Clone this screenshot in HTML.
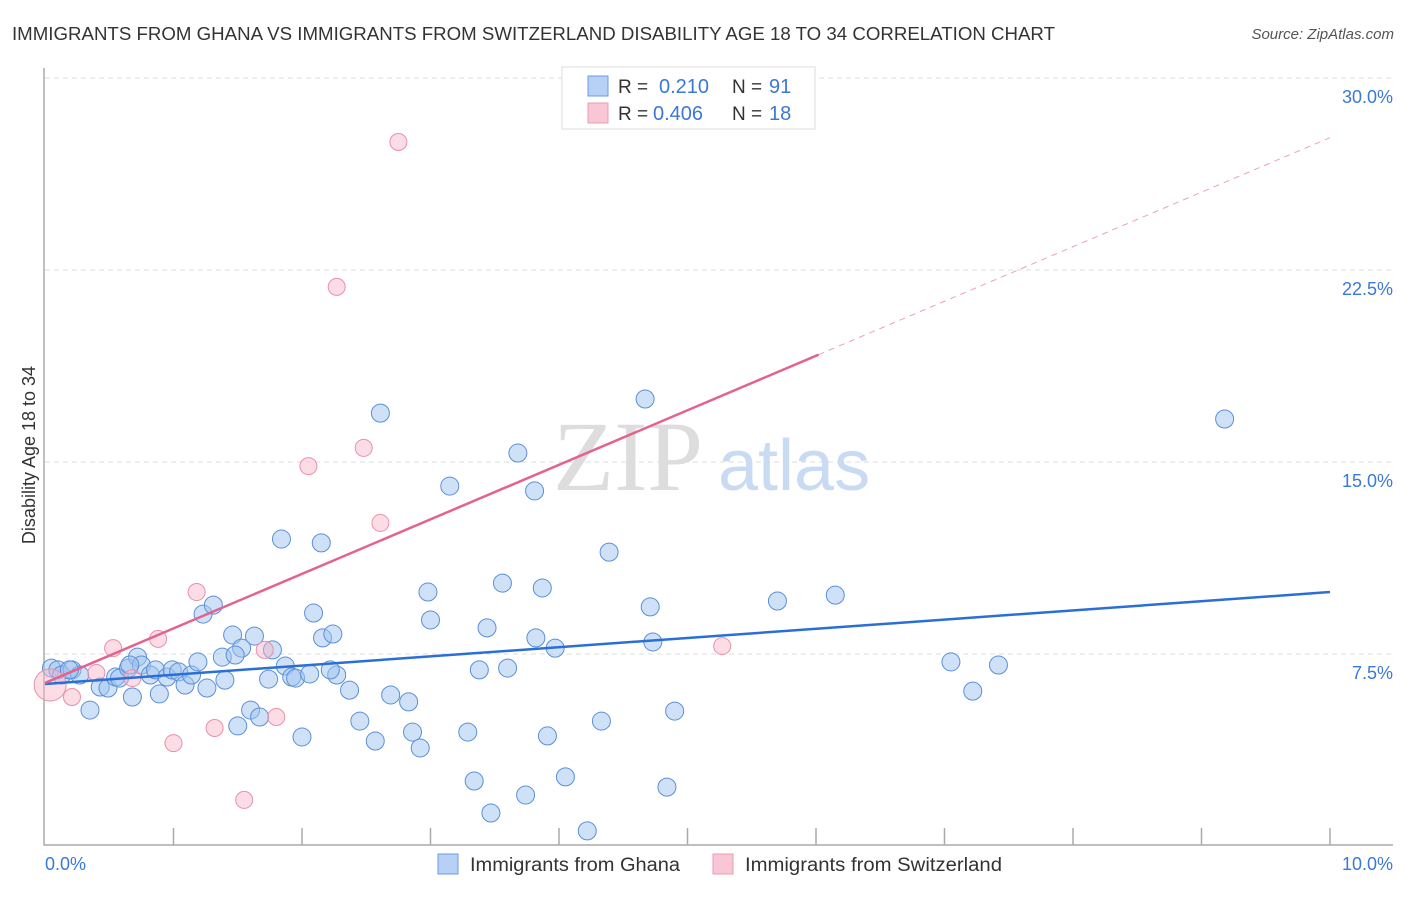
<!DOCTYPE html>
<html><head><meta charset="utf-8"><style>
body{margin:0;background:#fff;font-family:"Liberation Sans",sans-serif}
</style></head><body>
<svg id="chart" width="1406" height="892" xmlns="http://www.w3.org/2000/svg" font-family="Liberation Sans, sans-serif">
<text x="12" y="40" font-size="18" fill="#333" textLength="1043" lengthAdjust="spacingAndGlyphs">IMMIGRANTS FROM GHANA VS IMMIGRANTS FROM SWITZERLAND DISABILITY AGE 18 TO 34 CORRELATION CHART</text>
<text x="1394" y="39" font-size="15" fill="#555" font-style="italic" text-anchor="end">Source: ZipAtlas.com</text>
<g id="grid"></g>
<text x="553" y="490" font-size="100" font-family="Liberation Serif, serif" fill="#ddd">ZIP</text>
<text x="718" y="490" font-size="72" fill="#c9dbf3">atlas</text>
<g id="marks"></g>
<text transform="translate(35,455) rotate(-90)" font-size="18" fill="#333" text-anchor="middle">Disability Age 18 to 34</text>
<text x="45" y="870" font-size="18" fill="#3b78d8">0.0%</text>
<text x="1393" y="870" font-size="18" fill="#3b78d8" text-anchor="end">10.0%</text>
<g>
<rect x="562" y="67" width="253" height="62" fill="#fff" stroke="#ddd"/>
<rect x="588" y="76" width="20" height="20" fill="#b7d0f5" stroke="#6a9be0"/>
<rect x="588" y="103" width="20" height="20" fill="#f9c6d5" stroke="#eb9ab5"/>
<text x="618" y="93" font-size="19" fill="#333">R = </text><text x="659" y="93" font-size="20" fill="#3b78d8">0.210</text>
<text x="732" y="93" font-size="19" fill="#333">N = </text><text x="769" y="93" font-size="20" fill="#3b78d8">91</text>
<text x="618" y="120" font-size="19" fill="#333">R = </text><text x="653" y="120" font-size="20" fill="#3b78d8">0.406</text>
<text x="732" y="120" font-size="19" fill="#333">N = </text><text x="769" y="120" font-size="20" fill="#3b78d8">18</text>
</g>
<g>
<rect x="438" y="854" width="20" height="20" fill="#b7d0f5" stroke="#6a9be0"/>
<text x="470" y="871" font-size="19" fill="#333" textLength="210" lengthAdjust="spacingAndGlyphs">Immigrants from Ghana</text>
<rect x="713" y="854" width="20" height="20" fill="#f9c6d5" stroke="#eb9ab5"/>
<text x="745" y="871" font-size="19" fill="#333" textLength="257" lengthAdjust="spacingAndGlyphs">Immigrants from Switzerland</text>
</g>
</svg>
<script>
const yTicks=[7.5,15,22.5,30];
const yTickLabels=["7.5%","15.0%","22.5%","30.0%"];
const ghanaX=[.05,.10,.13,.21,.27,.35,.43,.49,.55,.58,.65,.68,.72,.75,.82,.86,.89,.95,.99,1.04,1.09,1.14,1.19,1.23,1.26,1.31,1.38,1.40,1.46,1.50,1.53,1.60,1.63,1.67,1.74,1.77,1.84,1.87,1.92,1.95,2.00,2.06,2.09,2.15,2.16,2.24,2.27,2.37,2.45,2.57,2.61,2.69,2.83,2.86,2.92,2.98,3.00,3.15,3.29,3.34,3.38,3.44,3.47,3.56,3.60,3.68,3.74,3.81,3.82,3.87,3.91,3.97,4.05,4.22,4.33,4.39,4.67,4.71,4.73,4.84,4.90,5.70,6.15,7.05,7.22,7.42,9.18,.19,.66,1.48,2.22];
const ghanaY=[6.95,6.88,6.68,6.88,6.68,5.31,6.21,6.17,6.60,6.56,6.95,5.82,7.38,7.07,6.68,6.88,5.94,6.60,6.88,6.80,6.29,6.68,7.19,9.06,6.17,9.41,7.38,6.48,8.24,4.69,7.73,5.31,8.20,5.04,6.52,7.66,11.99,7.03,6.60,6.56,4.26,6.72,9.10,11.84,8.13,8.28,6.68,6.09,4.88,4.10,16.91,5.90,5.63,4.45,3.83,9.92,8.83,14.06,4.45,2.54,6.88,8.52,1.29,10.27,6.95,15.35,1.99,13.87,8.13,10.08,4.30,7.73,2.70,0.59,4.88,11.48,17.46,9.34,7.97,2.30,5.27,9.57,9.80,7.19,6.05,7.07,16.68,6.88,7.07,7.46,6.88];
const swissX=[.04,.21,.40,.53,.68,.88,1.00,1.18,1.32,1.55,1.71,1.80,2.05,2.27,2.48,2.61,2.75,5.27];
const swissY=[6.29,5.82,6.76,7.73,6.56,8.09,4.02,9.92,4.61,1.80,7.66,5.04,14.84,21.84,15.55,12.62,27.50,7.81];
const ghanaTrend=[6.33,9.92];
const swissTrend=[6.37,27.67];
const swissSolidEnd=6.02;
const NS="http://www.w3.org/2000/svg";
const X=v=>45+v*128.5, Y=v=>846-v*25.6;
function mk(p,t,a){const e=document.createElementNS(NS,t);for(const k in a)e.setAttribute(k,a[k]);p.appendChild(e);return e;}
const g=document.getElementById('grid'),m=document.getElementById('marks');
yTicks.forEach((t,i)=>{
 const l=mk(g,'line',{x1:45,x2:1393,y1:Y(t),y2:Y(t),stroke:'#ddd','stroke-dasharray':'5,4'});
 
 
 const tx=mk(g,'text',{x:1393,y:Y(t)+25,'font-size':18,fill:'#3b78d8','text-anchor':'end'});
 tx.textContent=yTickLabels[i];
 
 
});
const ax=mk(g,'path',{d:'M44 68 V845 H1393',fill:'none',stroke:'#aaa','stroke-width':1.5});


for(let i=1;i<=10;i++){const t=mk(g,'line',{x1:X(i),x2:X(i),y1:828,y2:845,stroke:'#aaa','stroke-width':1.5});
 
 }
ghanaX.forEach((x,i)=>{const c=mk(m,'circle',{cx:X(x),cy:Y(ghanaY[i]),r:9,fill:'rgba(160,196,240,0.5)',stroke:'#5b8fd8','stroke-width':1});
 
 });
swissX.forEach((x,i)=>{const c=mk(m,'circle',{cx:X(x),cy:Y(swissY[i]),r:i==0?16:8.5,fill:'rgba(248,180,200,0.45)',stroke:'#e890ad','stroke-width':1});
 
 });
const bl=mk(m,'line',{x1:X(0),y1:Y(ghanaTrend[0]),x2:X(10),y2:Y(ghanaTrend[1]),stroke:'#2a6fd6','stroke-width':2.5});


const sl=v=>swissTrend[0]+(swissTrend[1]-swissTrend[0])*v/10;
const pl=mk(m,'line',{x1:X(0),y1:Y(sl(0)),x2:X(swissSolidEnd),y2:Y(sl(swissSolidEnd)),stroke:'#e4638e','stroke-width':2.5});


const pd=mk(m,'line',{x1:X(swissSolidEnd),y1:Y(sl(swissSolidEnd)),x2:X(10),y2:Y(sl(10)),stroke:'#eba0b8','stroke-width':1,'stroke-dasharray':'6,5'});


</script>
</body></html>
